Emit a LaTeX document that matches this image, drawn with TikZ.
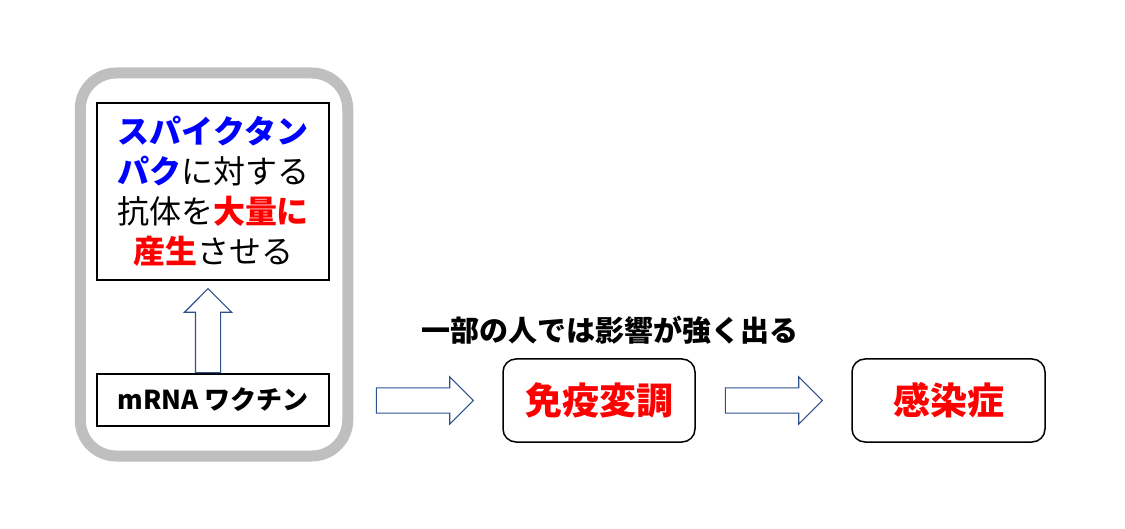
\documentclass[tikz,border=0pt]{standalone}
\usepackage{fontspec}
\newfontfamily\cjk{Noto Sans CJK JP}
\usetikzlibrary{calc}
\usetikzlibrary{shapes.arrows}
\definecolor{panelgray}{HTML}{BFBFBF}
\definecolor{arrowblue}{HTML}{2F528F}
\definecolor{spikeblue}{HTML}{0000FF}
\definecolor{hotred}{HTML}{FF0000}

\begin{document}
\begin{tikzpicture}[x=1pt,y=-1pt,
    box/.style={draw,line width=1.5pt,inner sep=0pt},
    fatarrow/.style={single arrow,draw=arrowblue,fill=white,line width=1.2pt,anchor=tail,
        inner sep=0pt,inner ysep=12pt,single arrow head extend=11pt,minimum height=#1}]
    \fill[white] (0,0) rectangle (1125,529);
    \node[draw=panelgray,line width=11pt,outer sep=0pt,rounded corners=36pt,
        minimum width=267.5pt,minimum height=383pt] (panel) at (214,264.5) {};
    \node[box,minimum width=232pt,minimum height=177pt,align=center,
        font=\cjk\fontsize{32}{40}\selectfont] (spike) at (213,191.5)
        {{\bfseries\color{spikeblue}スパイクタン}\\
         {\bfseries\color{spikeblue}パク}に対する\\
         抗体を{\bfseries\color{hotred}大量に}\\
         {\bfseries\color{hotred}産生}させる};
    \node[box,minimum width=232pt,minimum height=52pt,
        font=\cjk\bfseries\fontsize{26}{30}\selectfont] (vaccine) at (213,400) {mRNA ワクチン};
    \node[box,rounded corners=13pt,minimum width=192pt,minimum height=83pt,text=hotred,
        font=\cjk\bfseries\fontsize{37}{44}\selectfont] (immune) at (599,400.5) {免疫変調};
    \node[box,rounded corners=13pt,minimum width=193pt,minimum height=83pt,text=hotred,
        font=\cjk\bfseries\fontsize{37}{44}\selectfont] (infect) at (948.5,400.5) {感染症};
    \node[font=\cjk\bfseries\fontsize{29}{34}\selectfont] (note) at (610,330) {一部の人では影響が強く出る};
    % block arrows
    \node[fatarrow=84pt,rotate=90,yshift=5pt] (up) at (vaccine.north) {};
    \node[fatarrow=97pt,xshift=28pt] (toimmune) at (panel.east |- immune.west) {};
    \node[fatarrow=97pt,xshift=29pt] (toinfect) at (immune.east) {};
\end{tikzpicture}
\end{document}
